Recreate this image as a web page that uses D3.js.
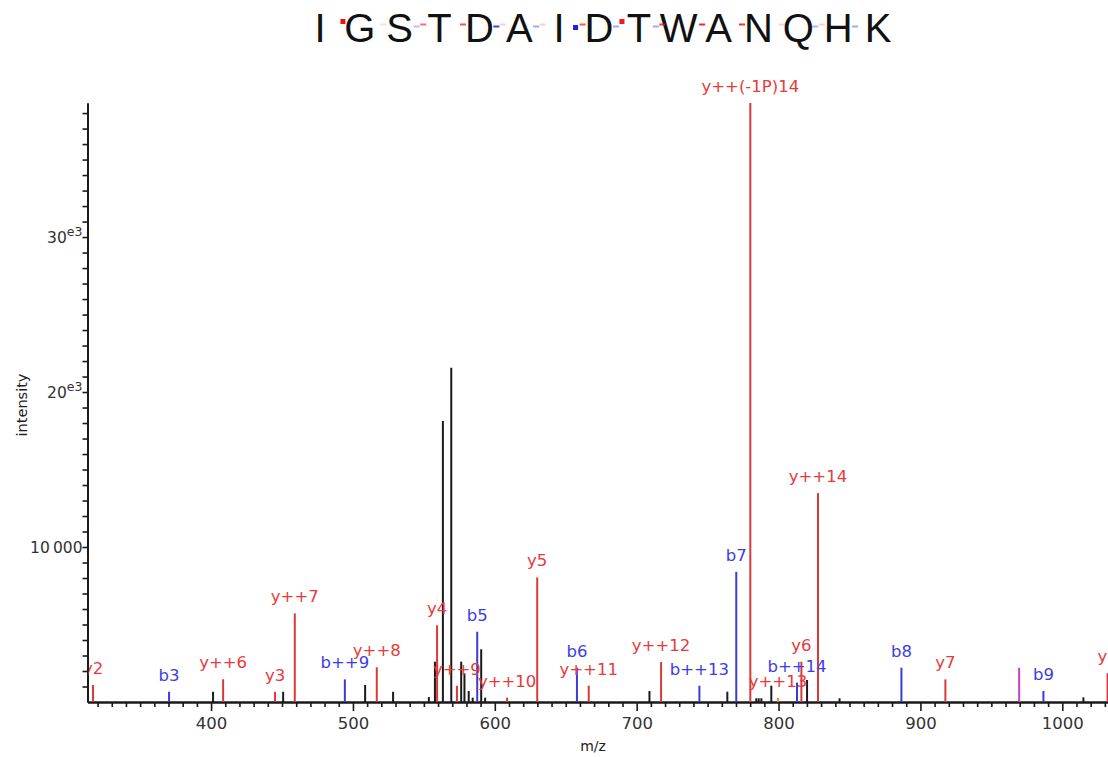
<!DOCTYPE html>
<html>
<head>
<meta charset="utf-8">
<script src="https://cdn.jsdelivr.net/npm/d3@7/dist/d3.min.js"></script>
<style>
  html, body { margin: 0; padding: 0; background: #fff; }
  svg { display: block; font-family: "DejaVu Sans", Verdana, sans-serif; }
</style>
</head>
<body>
<svg id="chart" width="1108" height="757"></svg>
<script>
// ---- Data ----
const sequence = ["I","G","S","T","D","A","I","D","T","W","A","N","Q","H","K"];
// coverage markers between residue k and k+1 (relative strength 0..1)
const bCoverage = [0, 0, 0.3, 0, 0.85, 0.4, 1.0, 0.4, 0.4, 0, 0, 0, 0.35, 0.4];
const yCoverage = [1.0, 0.15, 0.6, 0.7, 0.2, 0.2, 0.7, 0.95, 0.8, 0.9, 0.85, 0.2, 0.2, 0];

const peakMz = [316.8, 370.4, 401.4, 408.5, 445.1, 450.8, 459.0, 494.3, 508.6, 516.8,
  528.3, 553.5, 557.8, 559.3, 563.4, 569.3, 573.3, 576.3, 578.6, 581.6,
  584.4, 587.6, 590.4, 593.2, 608.7, 629.9, 657.9, 666.2, 709.0, 717.2,
  744.2, 763.9, 770.2, 780.1, 784.3, 786.0, 787.9, 794.9, 799.6, 813.0,
  816.1, 820.1, 827.8, 843.0, 886.6, 917.6, 969.6, 986.7, 1014.9, 1031.9];
const peakIntensity = [1100, 660, 660, 1460, 660, 660, 5720, 1460, 1100, 2240,
  660, 320, 2600, 4950, 18125, 21560, 1050, 2600, 1850, 710,
  280, 4535, 3400, 280, 280, 8040, 2215, 1050, 710, 2580,
  1050, 665, 8400, 38650, 240, 240, 240, 1050, 260, 1250,
  2600, 1420, 13480, 240, 2215, 1460, 2215, 710, 300, 1850];
const peakType = ["y","b","n","y","y","n","y","b","n","y",
  "n","n","n","y","n","n","y","n","n","n",
  "n","b","n","n","y","y","b","y","n","y",
  "b","n","b","y","n","n","n","n","o","b",
  "y","n","y","n","b","y","m","b","n","y"];
const peakLabel = ["y2","b3","","y++6","y3","","y++7","b++9","","y++8",
  "","","","y4","","","y++9","","","",
  "","b5","","","y++10","y5","b6","y++11","","y++12",
  "b++13","","b7","y++(-1P)14","","","","","y++13","b++14",
  "y6","","y++14","","b8","y7","","b9","","y8"];

const xMajorTicks = [400, 500, 600, 700, 800, 900, 1000];
const xTickLabels = ["400", "500", "600", "700", "800", "900", "1000"];
const yMajorTicks = [10000, 20000, 30000];
const yTickLabels = [["10\u2009000", ""], ["20", "e3"], ["30", "e3"]];

// ---- Layout ----
const W = 1108, H = 757;
const plotLeft = 87.5, baseY = 702;
const xMin = 312.9, xMax = 1035, pxPerUnit = 1.4187;
const yMax = 38650;

const lineColor = { y: "#d9393b", b: "#3b3bd6", n: "#1a1a1a", m: "#c83ccf", o: "#f08a30" };
const textColor = { y: "#e8393c", b: "#3d3de8", n: "#1a1a1a", m: "#c83ccf", o: "#e8393c" };

const svg = d3.select("#chart");

const x = d3.scaleLinear().domain([xMin, xMax]).range([plotLeft, plotLeft + (xMax - xMin) * pxPerUnit]);
const y = d3.scaleLinear().domain([0, yMax]).range([baseY, 103]);

svg.append("defs").append("clipPath").attr("id", "plotClip")
  .append("rect").attr("x", plotLeft + 1).attr("y", 0).attr("width", W).attr("height", baseY);

// ---- Title: sequence with coverage markers ----
const seqX = d3.scaleLinear().domain([0, sequence.length - 1]).range([320, 878]);
const title = svg.append("g");
title.selectAll("text.res").data(sequence).join("text")
  .attr("class", "res")
  .attr("x", (d, i) => seqX(i)).attr("y", 42)
  .attr("text-anchor", "middle")
  .attr("font-family", "'Liberation Sans', Arial, sans-serif")
  .attr("font-size", 40).attr("fill", "#111")
  .text(d => d);

const gapMid = i => (seqX(i) + seqX(i + 1)) / 2;
title.selectAll("rect.bmark").data(bCoverage).join("rect")
  .attr("class", "bmark")
  .attr("x", (d, i) => gapMid(i) - 6)
  .attr("y", d => d >= 1 ? 25 : 25.5)
  .attr("width", d => d >= 1 ? 5 : 6)
  .attr("height", d => d >= 1 ? 5 : 2)
  .attr("fill", "#2020e0")
  .attr("opacity", d => d);
title.selectAll("rect.ymark").data(yCoverage).join("rect")
  .attr("class", "ymark")
  .attr("x", (d, i) => gapMid(i) + 0.5)
  .attr("y", d => d >= 0.95 ? 19 : 23.5)
  .attr("width", d => d >= 0.95 ? 5 : 6)
  .attr("height", d => d >= 0.95 ? 5 : 2)
  .attr("fill", "#ee1010")
  .attr("opacity", d => d);

// ---- Axes ----
const xMinor = d3.range(320, xMax + 1, 10).filter(v => v % 100 !== 0);
const xAxisMinor = d3.axisBottom(x).tickValues(xMinor).tickSize(5).tickSizeOuter(0).tickFormat("");
const xAxisMajor = d3.axisBottom(x).tickValues(xMajorTicks).tickSize(9).tickSizeOuter(0)
  .tickFormat((d, i) => xTickLabels[i]).tickPadding(6);

const gx1 = svg.append("g").attr("transform", `translate(0,${baseY})`).call(xAxisMinor);
const gx2 = svg.append("g").attr("transform", `translate(0,${baseY})`).call(xAxisMajor);
[gx1, gx2].forEach(g => {
  g.select(".domain").attr("stroke", "#1a1a1a").attr("stroke-width", 2);
  g.selectAll(".tick line").attr("stroke", "#1a1a1a").attr("stroke-width", 1.6);
});
gx2.selectAll(".tick text").attr("font-size", 16.5).attr("fill", "#333")
  .attr("font-family", "'DejaVu Sans', Verdana, sans-serif");

const yMinor = d3.range(1000, yMax, 1000).filter(v => v % 10000 !== 0);
const yAxisMinor = d3.axisLeft(y).tickValues(yMinor).tickSize(5).tickSizeOuter(0).tickFormat("");
const yAxisMajor = d3.axisLeft(y).tickValues(yMajorTicks).tickSize(5).tickSizeOuter(0).tickFormat("").tickPadding(4);
const gy1 = svg.append("g").attr("transform", `translate(${plotLeft},0)`).call(yAxisMinor);
const gy2 = svg.append("g").attr("transform", `translate(${plotLeft},0)`).call(yAxisMajor);
[gy1, gy2].forEach(g => {
  g.select(".domain").attr("stroke", "#1a1a1a").attr("stroke-width", 2);
  g.selectAll(".tick line").attr("stroke", "#1a1a1a").attr("stroke-width", 1.6);
});
gy2.selectAll(".tick").each(function(d, i) {
  const t = d3.select(this).append("text")
    .attr("x", -5).attr("dy", "0.36em")
    .attr("text-anchor", "end").attr("fill", "#333")
    .attr("font-size", 15.5)
    .attr("font-family", "'DejaVu Sans', Verdana, sans-serif");
  t.append("tspan").text(yTickLabels[i][0]);
  if (yTickLabels[i][1]) {
    t.append("tspan").attr("font-size", 12.5).attr("dy", "-0.6em").text(yTickLabels[i][1]);
  }
});

// axis titles
svg.append("text").attr("x", 593).attr("y", 751).attr("text-anchor", "middle")
  .attr("font-size", 14).attr("fill", "#222").text("m/z");
svg.append("text").attr("transform", "translate(27,405) rotate(-90)").attr("text-anchor", "middle")
  .attr("font-size", 14.5).attr("fill", "#222").text("intensity");

// ---- Peaks ----
const peaks = peakMz.map((mz, i) => ({ mz, inten: peakIntensity[i], type: peakType[i], label: peakLabel[i] }));
const plot = svg.append("g").attr("clip-path", "url(#plotClip)");
const order = ["n", "m", "o", "b", "y"];
const sorted = peaks.slice().sort((a, b) => order.indexOf(a.type) - order.indexOf(b.type));
plot.selectAll("line.peak").data(sorted).join("line")
  .attr("class", "peak")
  .attr("x1", d => x(d.mz)).attr("x2", d => x(d.mz))
  .attr("y1", y(0)).attr("y2", d => y(d.inten))
  .attr("stroke", d => lineColor[d.type]).attr("stroke-width", 2);

plot.selectAll("text.plabel").data(peaks.filter(d => d.label)).join("text")
  .attr("class", "plabel")
  .attr("x", d => x(d.mz)).attr("y", d => y(d.inten) - 11)
  .attr("text-anchor", "middle").attr("font-size", 16.5)
  .attr("fill", d => textColor[d.type])
  .text(d => d.label);
</script>
</body>
</html>
